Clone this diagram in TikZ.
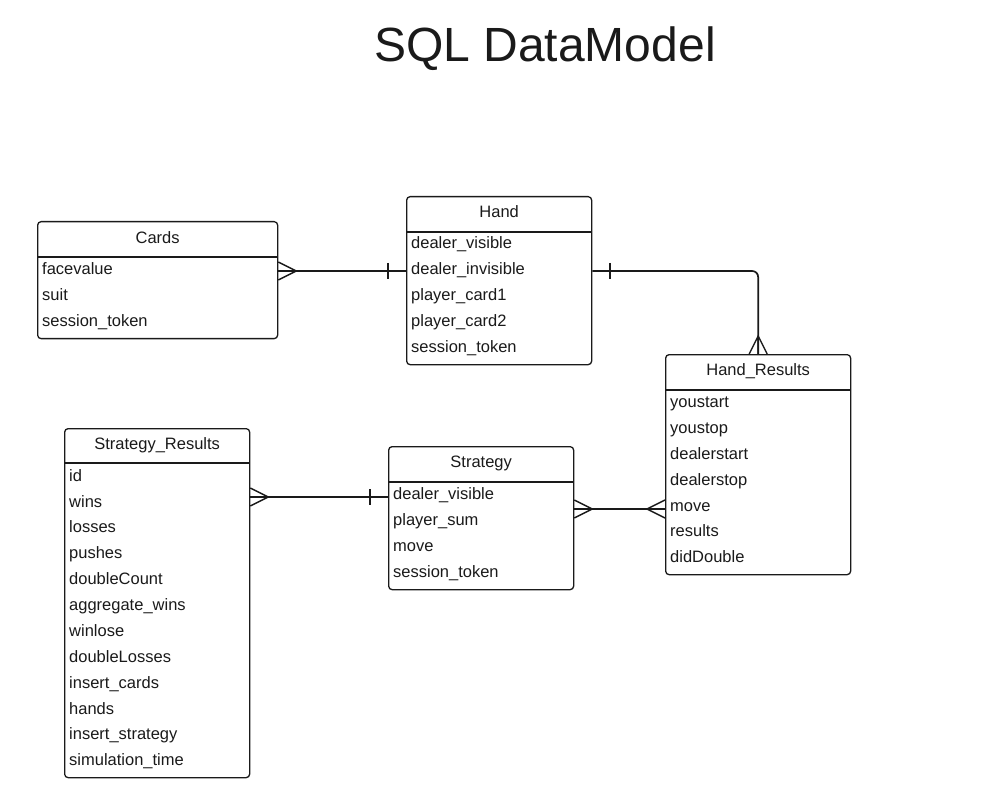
\documentclass[tikz,border=0pt]{standalone}
\usepackage{fontspec}
\setmainfont{Liberation Sans}
\usetikzlibrary{calc}
\definecolor{ink}{HTML}{1A1A1A}
\begin{document}
\begin{tikzpicture}[x=1pt,y=-1pt,
  tbl/.style={draw=ink, rounded corners=3.5pt, line width=1.3pt, inner sep=0pt, anchor=north west},
  hdr/.style={font=\fontsize{16.5}{18}\selectfont, text=ink, inner sep=0pt, text height=12pt, text depth=3.5pt},
  fld/.style={font=\fontsize{16.5}{18}\selectfont, text=ink, anchor=west, inner sep=0pt, text height=12pt, text depth=3.5pt, yshift=-1.5pt},
  conn/.style={draw=ink, line width=1.4pt},
  crow/.pic={\draw[conn] (0,0)--(18,0) (0,-9)--(18,0)--(0,9);},
  bar/.pic={\draw[conn] (0,-8)--(0,8);},
  thickbar/.pic={\draw[conn, line width=1.8pt] (0,-8)--(0,8);}
]
\useasboundingbox (0,0) rectangle (996,810);

% title
\node[font=\fontsize{48}{56}\selectfont, text=ink, anchor=base, inner sep=0pt] (title) at (545,62) {SQL DataModel};

% Cards
\node[tbl, minimum width=240pt, minimum height=117pt] (cards) at (37,221) {};
\draw[conn] ([yshift=-36pt]cards.north west) -- ([yshift=-36pt]cards.north east);
\node[hdr] (cardsh) at ($(cards.north)+(0,18)$) {Cards};
\node[fld] (cards1) at (42,269) {facevalue};
\node[fld] (cards2) at (42,295) {suit};
\node[fld] (cards3) at (42,321) {session\_token};

% Hand
\node[tbl, minimum width=185pt, minimum height=168pt] (hand) at (406,196) {};
\draw[conn] ([yshift=-36pt]hand.north west) -- ([yshift=-36pt]hand.north east);
\node[hdr] (handh) at ($(hand.north)+(0,17)$) {Hand};
\node[fld] (hand1) at (411,243) {dealer\_visible};
\node[fld] (hand2) at (411,269) {dealer\_invisible};
\node[fld] (hand3) at (411,295) {player\_card1};
\node[fld] (hand4) at (411,321) {player\_card2};
\node[fld] (hand5) at (411,347) {session\_token};

% Hand_Results
\node[tbl, minimum width=185pt, minimum height=220pt] (hres) at (665,354) {};
\draw[conn] ([yshift=-36pt]hres.north west) -- ([yshift=-36pt]hres.north east);
\node[hdr] (hresh) at ($(hres.north)+(0,17)$) {Hand\_Results};
\node[fld] (hres1) at (670,402) {youstart};
\node[fld] (hres2) at (670,428) {youstop};
\node[fld] (hres3) at (670,454) {dealerstart};
\node[fld] (hres4) at (670,480) {dealerstop};
\node[fld] (hres5) at (670,506) {move};
\node[fld] (hres6) at (670,531) {results};
\node[fld] (hres7) at (670,557) {didDouble};

% Strategy_Results
\node[tbl, minimum width=185pt, minimum height=349pt] (sres) at (64,428) {};
\draw[conn] ([yshift=-35pt]sres.north west) -- ([yshift=-35pt]sres.north east);
\node[hdr] (sresh) at ($(sres.north)+(0,17)$) {Strategy\_Results};
\node[fld] (sres1) at (69,476) {id};
\node[fld] (sres2) at (69,502) {wins};
\node[fld] (sres3) at (69,527) {losses};
\node[fld] (sres4) at (69,553) {pushes};
\node[fld] (sres5) at (69,579) {doubleCount};
\node[fld] (sres6) at (69,605) {aggregate\_wins};
\node[fld] (sres7) at (69,631) {winlose};
\node[fld] (sres8) at (69,657) {doubleLosses};
\node[fld] (sres9) at (69,683) {insert\_cards};
\node[fld] (sres10) at (69,709) {hands};
\node[fld] (sres11) at (69,734) {insert\_strategy};
\node[fld] (sres12) at (69,760) {simulation\_time};

% Strategy
\node[tbl, minimum width=185pt, minimum height=143pt] (strat) at (388,446) {};
\draw[conn] ([yshift=-36pt]strat.north west) -- ([yshift=-36pt]strat.north east);
\node[hdr] (strath) at ($(strat.north)+(0,17)$) {Strategy};
\node[fld] (strat1) at (393,494) {dealer\_visible};
\node[fld] (strat2) at (393,520) {player\_sum};
\node[fld] (strat3) at (393,546) {move};
\node[fld] (strat4) at (393,572) {session\_token};

% connector coordinates
\coordinate (ya) at (0,271);
\coordinate (yb) at (0,497);
\coordinate (yc) at (0,509);

% Cards -- Hand
\draw[conn] (cards.east |- ya) -- (hand.west |- ya);
\pic at (cards.east |- ya) {crow};
\pic at ($(hand.west |- ya)+(-18,0)$) {bar};

% Hand -- Hand_Results
\draw[conn, line width=1.7pt, rounded corners=6pt] (hand.east |- ya) -| (hres.north);
\pic at ($(hand.east |- ya)+(18,0)$) {thickbar};
\pic[rotate=90] at (hres.north) {crow};

% Strategy_Results -- Strategy
\draw[conn] (sres.east |- yb) -- (strat.west |- yb);
\pic at (sres.east |- yb) {crow};
\pic at ($(strat.west |- yb)+(-18,0)$) {bar};

% Strategy -- Hand_Results
\draw[conn] (strat.east |- yc) -- (hres.west |- yc);
\pic at (strat.east |- yc) {crow};
\pic[rotate=180] at (hres.west |- yc) {crow};
\end{tikzpicture}
\end{document}
